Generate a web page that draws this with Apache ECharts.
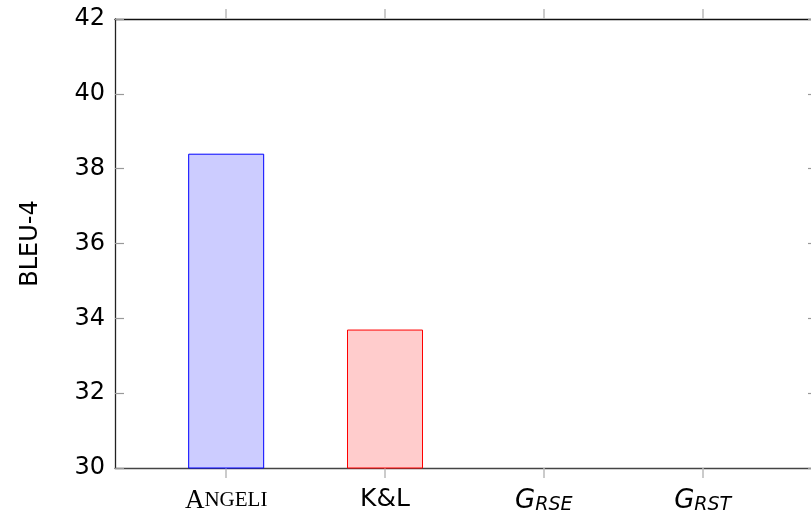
<!DOCTYPE html>
<html><head><meta charset="utf-8">
<script src="https://cdn.jsdelivr.net/npm/echarts@6/dist/echarts.min.js"></script>
<style>html,body{margin:0;padding:0;background:#fff}#c{width:811px;height:516px}</style>
</head><body><div id="c"></div>
<script>
const categories = ['Angeli', 'K&L', 'G_RSE', 'G_RST'];
const bleuValues = [38.4, 33.7, null, null];
const yTicks = [30, 32, 34, 36, 38, 40, 42];
const seriesColors = [
  {fill: '#ccccff', stroke: '#0000ff'},
  {fill: '#ffcccc', stroke: '#ff0000'}
];
const catIdx = categories.map((c, i) => i);
const labelText = ['{sc|A}{scs|NGELI}', '{sans|K&L}', '{gi|G}{sub|RSE}', '{gi|G}{sub|RST}'];

const chart = echarts.init(document.getElementById('c'), null, {renderer: 'canvas'});
const series = bleuValues.map((v, i) => v == null ? null : ({
  type: 'bar', xAxisIndex: 0, yAxisIndex: 0,
  data: [[i, v]], barWidth: 76, barGap: '-100%',
  itemStyle: {color: seriesColors[i].fill, borderColor: seriesColors[i].stroke, borderWidth: 1}
})).filter(Boolean);

chart.setOption({
  animation: false,
  grid: {left: 115, top: 19, width: 702, height: 449, containLabel: false, outerBoundsMode: 'none'},
  xAxis: [{
    type: 'value', min: -0.7, max: 3.72, position: 'bottom',
    splitLine: {show: false},
    axisLine: {show: true, onZero: false, lineStyle: {color: '#444', width: 1.3}},
    axisTick: {show: true, inside: false, length: 10, customValues: catIdx, lineStyle: {color: '#bbb', width: 1.5}},
    axisLabel: {
      customValues: catIdx, margin: 19,
      formatter: v => labelText[Math.round(v)] || '',
      rich: {
        sc: {fontFamily: 'Liberation Serif', fontSize: 27, color: '#000'},
        scs: {fontFamily: 'Liberation Serif', fontSize: 21, color: '#000'},
        sans: {fontFamily: 'DejaVu Sans', fontSize: 25, color: '#000'},
        gi: {fontFamily: 'DejaVu Sans', fontStyle: 'italic', fontSize: 26, color: '#000'},
        sub: {fontFamily: 'DejaVu Sans', fontStyle: 'italic', fontSize: 19, color: '#000', verticalAlign: 'bottom', padding: [9, 0, 0, 0]}
      }
    }
  }, {
    type: 'value', min: -0.7, max: 3.72, position: 'top',
    splitLine: {show: false},
    axisLine: {show: true, onZero: false, lineStyle: {color: '#111', width: 1.3}},
    axisTick: {show: true, inside: false, length: 10, customValues: catIdx, lineStyle: {color: '#bbb', width: 1.5}},
    axisLabel: {show: false}
  }],
  yAxis: [{
    type: 'value', min: 30, max: 42, interval: 2, position: 'left',
    name: 'BLEU-4', nameLocation: 'middle', nameGap: 72, nameRotate: 90,
    nameTextStyle: {fontFamily: 'DejaVu Sans', fontSize: 24, color: '#000'},
    splitLine: {show: false},
    axisLine: {show: true, onZero: false, lineStyle: {color: '#222', width: 1.3}},
    axisTick: {show: true, inside: true, length: 9, lineStyle: {color: '#999', width: 1.2}},
    axisLabel: {fontFamily: 'DejaVu Sans', fontSize: 24, color: '#000', margin: 10}
  }, {
    type: 'value', min: 30, max: 42, interval: 2, position: 'right',
    splitLine: {show: false},
    axisLine: {show: true, onZero: false, lineStyle: {color: '#222', width: 1.3}},
    axisTick: {show: true, inside: true, length: 9, lineStyle: {color: '#999', width: 1.2}},
    axisLabel: {show: false}
  }],
  series: series
});
</script></body></html>
